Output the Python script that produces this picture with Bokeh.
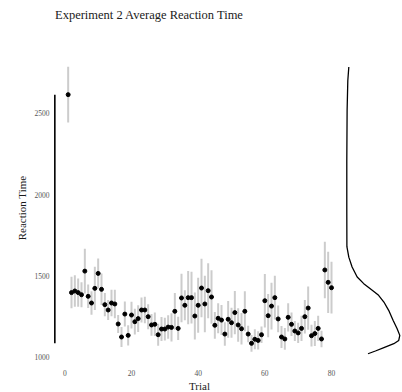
from bokeh.plotting import figure
from bokeh.layouts import row, column
from bokeh.models import Range1d, FixedTicker
from bokeh.core.properties import value
from bokeh.embed import file_html
from bokeh.resources import INLINE

# ---------------- data ----------------
trials = list(range(1, 81))
mean_rt = [2615, 1398, 1408, 1398, 1385, 1530, 1375, 1334, 1424, 1516,
           1418, 1324, 1291, 1334, 1328, 1205, 1125, 1266, 1135, 1260,
           1219, 1238, 1291, 1291, 1250, 1199, 1203, 1139, 1174, 1174,
           1186, 1184, 1283, 1178, 1365, 1320, 1367, 1367, 1254, 1320,
           1426, 1328, 1410, 1371, 1197, 1240, 1229, 1143, 1234, 1213,
           1275, 1199, 1176, 1283, 1143, 1086, 1111, 1104, 1139, 1348,
           1256, 1315, 1367, 1236, 1125, 1113, 1246, 1203, 1162, 1150,
           1178, 1250, 1303, 1133, 1146, 1178, 1113, 1537, 1461, 1428]
ci_half = [171, 97, 97, 87, 77, 138, 72, 72, 133, 92,
           97, 72, 62, 82, 87, 56, 62, 77, 62, 82,
           79, 82, 77, 82, 77, 67, 72, 67, 74, 70,
           72, 87, 113, 72, 149, 92, 164, 159, 144, 169,
           180, 174, 169, 164, 82, 92, 92, 72, 113, 92,
           133, 103, 97, 123, 51, 51, 62, 56, 51, 164,
           133, 144, 135, 82, 67, 67, 87, 72, 62, 62,
           77, 103, 133, 67, 77, 77, 51, 174, 188, 159]
# marginal density of reaction time (relative height)
dens_rt = [2785, 2700, 2520, 2200, 1900, 1680, 1616, 1555, 1494, 1453, 1412,
           1381, 1340, 1289, 1227, 1176, 1135, 1104, 1084, 1060, 1039, 1022]
dens_val = [0.038, 0.019, 0.006, 0.0, 0.0, 0.002, 0.038, 0.10, 0.196, 0.32, 0.48,
            0.60, 0.70, 0.79, 0.875, 0.95, 1.0, 0.98, 0.887, 0.70, 0.54, 0.40]
x_ticks = [0, 20, 40, 60, 80]
y_ticks = [1000, 1500, 2000, 2500]

TITLE = "Experiment 2 Average Reaction Time"
XLABEL = "Trial"
YLABEL = "Reaction Time"
FONT = "Liberation Serif"

lower = [m - h for m, h in zip(mean_rt, ci_half)]
upper = [m + h for m, h in zip(mean_rt, ci_half)]

# ---------------- layout ----------------
W, H = 402, 392
TITLE_H, XLAB_H = 28, 12
MID_H = H - TITLE_H - XLAB_H          # 352
MAIN_W, DENS_W = 345, 57
LEFT, TOP, BOTTOM = 53, 30, 23        # frame: x 53..345, y 58..357 on the page
PX_PER_MS = 0.16267
YSTART = 999.0
y_range = Range1d(YSTART, YSTART + (MID_H - TOP - BOTTOM) / PX_PER_MS)
XSTART, XEND = -3.40, 84.2


def strip(width, height):
    f = figure(width=width, height=height, x_range=Range1d(0, width), y_range=Range1d(height, 0),
               output_backend="svg", toolbar_location=None,
               x_axis_location=None, y_axis_location=None,
               min_border_left=0, min_border_right=0, min_border_top=0, min_border_bottom=0)
    f.outline_line_color = None
    f.grid.visible = False
    f.background_fill_color = "white"
    f.border_fill_color = "white"
    return f


# title strip
t = strip(W, TITLE_H)
t.text(x=[LEFT + 1.5], y=[14.0], text=[TITLE], text_align="left", text_baseline="alphabetic",
       text_font=value(FONT), text_font_size="12.5px", text_color="#1a1a1a")

# main panel
p = figure(width=MAIN_W, height=MID_H, x_range=Range1d(XSTART, XEND), y_range=y_range,
           output_backend="svg", toolbar_location=None,
           min_border_left=LEFT, min_border_right=0, min_border_top=TOP, min_border_bottom=BOTTOM)
p.outline_line_color = None
p.grid.visible = False
p.background_fill_color = "white"
p.border_fill_color = "white"

# error bars
p.segment(x0=trials, y0=lower, x1=trials, y1=upper, line_color="#cccccc", line_width=2)
# means
p.scatter(trials, mean_rt, size=4, color="black")
# range-frame axis line (from min to max of the means)
AXIS_X = XSTART + 0.4
p.segment(x0=[AXIS_X], x1=[AXIS_X], y0=[min(mean_rt)], y1=[max(mean_rt)],
          line_color="black", line_width=1.6)

p.xaxis.ticker = FixedTicker(ticks=x_ticks)
p.yaxis.ticker = FixedTicker(ticks=y_ticks)
p.yaxis.axis_label = YLABEL
for ax in (p.xaxis[0], p.yaxis[0]):
    ax.axis_line_color = None
    ax.major_tick_line_color = None
    ax.minor_tick_line_color = None
    ax.major_tick_out = 0
    ax.major_tick_in = 0
    ax.minor_tick_out = 0
    ax.major_label_text_font = FONT
    ax.major_label_text_font_size = "7.5px"
    ax.major_label_text_color = "#555555"
    ax.axis_label_text_font = FONT
    ax.axis_label_text_font_size = "11px"
    ax.axis_label_text_font_style = "normal"
    ax.axis_label_text_color = "#1a1a1a"
p.xaxis.major_label_standoff = 12
p.yaxis.major_label_standoff = 4
p.yaxis.axis_label_standoff = 4

# marginal density panel
d = figure(width=DENS_W, height=MID_H, x_range=Range1d(-0.0245, 1.051), y_range=y_range,
           output_backend="svg", toolbar_location=None,
           x_axis_location=None, y_axis_location=None,
           min_border_left=0, min_border_right=0, min_border_top=TOP, min_border_bottom=BOTTOM)
d.outline_line_color = None
d.grid.visible = False
d.background_fill_color = "white"
d.border_fill_color = "white"
d.line(dens_val, dens_rt, line_color="black", line_width=1.3)

# x-axis title strip (centred under the main panel's frame)
xl = strip(W, XLAB_H)
xl.text(x=[(LEFT + MAIN_W) / 2], y=[5.8], text=[XLABEL], text_align="center",
        text_baseline="alphabetic", text_font=value(FONT), text_font_size="11px",
        text_color="#1a1a1a")

layout = column(t, row(p, d, spacing=0), xl, spacing=0)
open("out.html", "w").write(file_html(layout, INLINE))
